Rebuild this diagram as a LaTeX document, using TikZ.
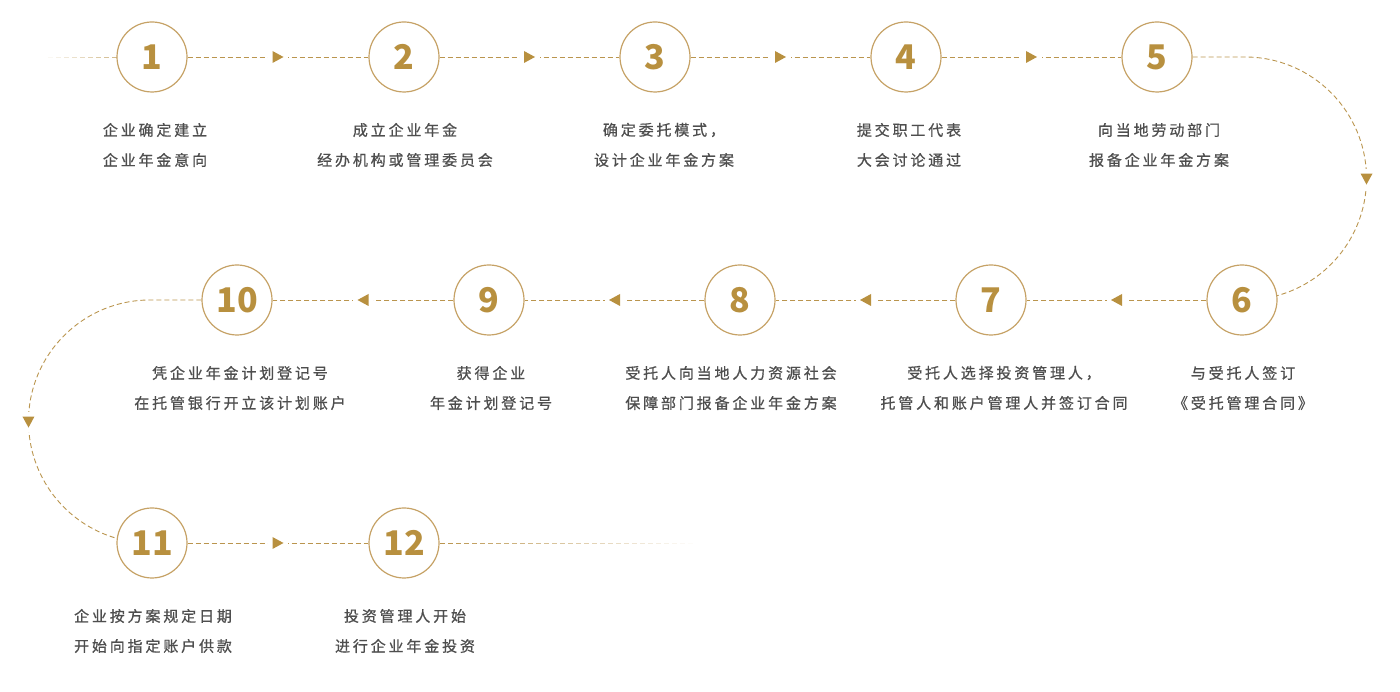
\documentclass[tikz,border=0pt]{standalone}
\usepackage{fontspec}
\usetikzlibrary{arrows.meta,decorations.markings}
\newfontfamily\cjk[LetterSpace=19, FakeBold=0.8]{Noto Sans CJK SC}
\newfontfamily\numfont{Noto Sans CJK SC}
\definecolor{gold}{HTML}{B8903F}
\definecolor{ring}{HTML}{C6A266}
\definecolor{linec}{HTML}{BA954E}
\definecolor{txt}{HTML}{4E4E4E}
\pgfdeclarelayer{bg}
\pgfsetlayers{bg,main}
\tikzset{
  stepnode/.style={circle, draw=ring, line width=1.2pt, fill=white, minimum size=70pt, inner sep=0pt,
    font=\numfont\bfseries\fontsize{34}{34}\selectfont, text=gold},
  lbl/.style={font=\cjk\fontsize{15}{15}\selectfont, text=txt, inner sep=0pt, anchor=center},
  conn/.style={draw=linec, line width=0.9pt, dash pattern=on 5pt off 3pt},
  midarrow/.style={postaction={decorate, decoration={markings, mark=at position #1 with {
      \fill[white] (-10pt,-3pt) rectangle (10pt,3pt);
      \fill[gold] (5.5pt,0pt) -- (-5.5pt,6pt) -- (-5.5pt,-6pt) -- cycle;}}}},
}
\begin{document}
\begin{tikzpicture}[x=1pt,y=1pt]
\useasboundingbox (0,0) rectangle (1400,692);
% row 1
\node[stepnode] (n1) at (152,635) {1};
\node[stepnode] (n2) at (404,635) {2};
\node[stepnode] (n3) at (655,635) {3};
\node[stepnode] (n4) at (906,635) {4};
\node[stepnode] (n5) at (1157,635) {5};
% row 2
\node[stepnode] (n6) at (1242,392) {6};
\node[stepnode] (n7) at (991,392) {7};
\node[stepnode] (n8) at (740,392) {8};
\node[stepnode] (n9) at (489,392) {9};
\node[stepnode] (n10) at (237,392) {10};
% row 3
\node[stepnode] (n11) at (152,149) {11};
\node[stepnode] (n12) at (404,149) {12};

\coordinate (r5) at (1245,635);
\coordinate (l10) at (150,392);

\begin{pgfonlayer}{bg}
\draw[conn, midarrow=0.5] (n1) -- (n2);
\draw[conn, midarrow=0.5] (n2) -- (n3);
\draw[conn, midarrow=0.5] (n3) -- (n4);
\draw[conn, midarrow=0.5] (n4) -- (n5);
\draw[conn, midarrow=243.85pt] (n5) -- (r5) arc[start angle=90, end angle=-75, radius=121.5];
\draw[conn, midarrow=0.5] (n6) -- (n7);
\draw[conn, midarrow=0.5] (n7) -- (n8);
\draw[conn, midarrow=0.5] (n8) -- (n9);
\draw[conn, midarrow=0.5] (n9) -- (n10);
\draw[conn, midarrow=242.85pt] (n10) -- (l10) arc[start angle=90, end angle=255, radius=121.5];
\draw[conn, midarrow=0.5] (n11) -- (n12);
% fading lead-in
\foreach \i in {0,...,9} {
  \draw[linec, line width=0.9pt, opacity=\i/14] ({40+8*\i},635) -- ++(5,0);
}
% fading tail
\foreach \i in {0,...,31} {
  \draw[linec, line width=0.9pt, opacity={1-\i/32}] ({440+8*\i},149) -- ++(5,0);
}
\end{pgfonlayer}

% labels
\node[lbl] (t1a) at (155,562) {企业确定建立};
\node[lbl] (t1b) at (155,532) {企业年金意向};
\node[lbl] (t2a) at (405,562) {成立企业年金};
\node[lbl] (t2b) at (405,532) {经办机构或管理委员会};
\node[lbl] (t3a) at (664,562) {确定委托模式，};
\node[lbl] (t3b) at (664,532) {设计企业年金方案};
\node[lbl] (t4a) at (909,562) {提交职工代表};
\node[lbl] (t4b) at (909,532) {大会讨论通过};
\node[lbl] (t5a) at (1159,562) {向当地劳动部门};
\node[lbl] (t5b) at (1159,532) {报备企业年金方案};

\node[lbl] (t10a) at (240,319) {凭企业年金计划登记号};
\node[lbl] (t10b) at (240,289) {在托管银行开立该计划账户};
\node[lbl] (t9a) at (491,319) {获得企业};
\node[lbl] (t9b) at (491,289) {年金计划登记号};
\node[lbl] (t8a) at (731,319) {受托人向当地人力资源社会};
\node[lbl] (t8b) at (731,289) {保障部门报备企业年金方案};
\node[lbl] (t7a) at (1004,319) {受托人选择投资管理人，};
\node[lbl] (t7b) at (1004,289) {托管人和账户管理人并签订合同};
\node[lbl] (t6a) at (1243,319) {与受托人签订};
\node[lbl] (t6b) at (1243,289) {《受托管理合同》};

\node[lbl] (t11a) at (153,76) {企业按方案规定日期};
\node[lbl] (t11b) at (153,46) {开始向指定账户供款};
\node[lbl] (t12a) at (405,76) {投资管理人开始};
\node[lbl] (t12b) at (405,46) {进行企业年金投资};
\end{tikzpicture}
\end{document}
